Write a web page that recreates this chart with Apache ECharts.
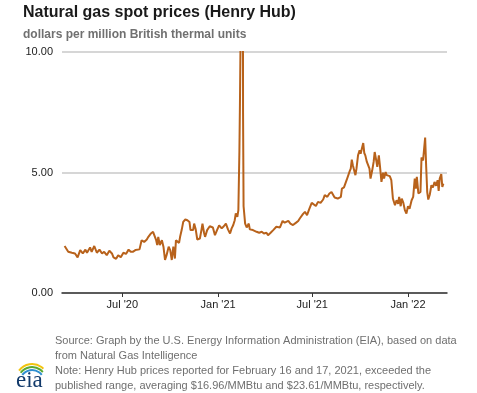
<!DOCTYPE html>
<html>
<head>
<meta charset="utf-8">
<script src="https://cdn.jsdelivr.net/npm/echarts@6/dist/echarts.min.js"></script>
<style>
html,body{margin:0;padding:0;background:#fff;}
#chart{width:477px;height:393px;}
</style>
</head>
<body>
<div id="chart"></div>
<script>
// ---- data ----
const dates = [
'2020-03-12','2020-03-15','2020-03-19','2020-03-26','2020-04-01','2020-04-06','2020-04-11','2020-04-16','2020-04-21','2020-04-24',
'2020-04-30','2020-05-03','2020-05-08','2020-05-13','2020-05-18','2020-05-23','2020-05-27','2020-06-01','2020-06-06','2020-06-11',
'2020-06-14','2020-06-19','2020-06-23','2020-06-28','2020-07-03','2020-07-08','2020-07-13','2020-07-17','2020-07-21','2020-07-26',
'2020-08-03','2020-08-07','2020-08-12','2020-08-17','2020-08-20','2020-08-25','2020-08-29','2020-08-31','2020-09-04','2020-09-06',
'2020-09-08','2020-09-11','2020-09-15','2020-09-18','2020-09-21','2020-09-24','2020-09-28','2020-10-01','2020-10-04','2020-10-07',
'2020-10-10','2020-10-12','2020-10-15','2020-10-18','2020-10-20','2020-10-23','2020-10-26','2020-10-30','2020-11-03','2020-11-07',
'2020-11-09','2020-11-14','2020-11-16','2020-11-19','2020-11-22','2020-11-27','2020-11-30','2020-12-02','2020-12-05','2020-12-07',
'2020-12-11','2020-12-16','2020-12-22','2020-12-26','2020-12-30',
'2021-01-03','2021-01-08','2021-01-12','2021-01-16','2021-01-20','2021-01-24','2021-01-27','2021-01-30','2021-02-02','2021-02-04',
'2021-02-07','2021-02-09','2021-02-10','2021-02-11','2021-02-12','2021-02-16','2021-02-17','2021-02-18','2021-02-19','2021-02-22',
'2021-02-25','2021-03-01','2021-03-03','2021-03-06','2021-03-09','2021-03-12','2021-03-16','2021-03-21','2021-03-26','2021-03-30',
'2021-04-04','2021-04-07','2021-04-12','2021-04-17','2021-04-23','2021-04-30','2021-05-05','2021-05-09','2021-05-16','2021-05-20',
'2021-05-25','2021-05-31','2021-06-04','2021-06-07','2021-06-13','2021-06-17','2021-06-21','2021-06-25','2021-06-30','2021-07-03',
'2021-07-08','2021-07-12','2021-07-17','2021-07-22','2021-07-25','2021-07-30','2021-08-03','2021-08-07','2021-08-13','2021-08-19',
'2021-08-21','2021-08-25','2021-08-27','2021-08-31','2021-09-05','2021-09-11','2021-09-13','2021-09-15','2021-09-17','2021-09-22',
'2021-09-24','2021-09-27','2021-09-30','2021-10-02','2021-10-07','2021-10-09','2021-10-11','2021-10-14','2021-10-19','2021-10-21',
'2021-10-24','2021-10-27','2021-10-29','2021-11-01','2021-11-03','2021-11-06','2021-11-08','2021-11-11','2021-11-14','2021-11-16',
'2021-11-19','2021-11-21','2021-11-27','2021-11-30','2021-12-03','2021-12-07','2021-12-10','2021-12-13','2021-12-15','2021-12-18',
'2021-12-20','2021-12-23','2021-12-26','2021-12-29',
'2022-01-01','2022-01-04','2022-01-08','2022-01-11','2022-01-14','2022-01-16','2022-01-18','2022-01-21','2022-01-25','2022-01-27',
'2022-01-30','2022-02-03','2022-02-05','2022-02-07','2022-02-09','2022-02-12','2022-02-15','2022-02-18','2022-02-21','2022-02-24',
'2022-02-27','2022-03-01','2022-03-03','2022-03-06','2022-03-08','2022-03-10'
];
const prices = [
1.95,1.92,1.71,1.67,1.64,1.48,1.78,1.64,1.80,1.67,
1.89,1.71,1.95,1.67,1.80,1.64,1.71,1.57,1.75,1.64,
1.48,1.42,1.57,1.48,1.67,1.62,1.80,1.71,1.71,1.78,
1.81,2.19,2.12,2.22,2.33,2.47,2.54,2.47,2.19,1.99,
2.33,1.99,2.19,1.92,1.37,1.57,1.92,1.78,1.37,1.92,
1.43,2.19,2.26,2.08,2.33,2.61,2.95,3.05,3.02,2.95,
2.61,2.61,2.88,2.64,2.22,2.26,2.61,2.88,2.50,2.33,
2.61,2.77,2.72,2.40,2.61,
2.81,2.68,2.77,2.88,2.64,2.47,2.68,2.81,3.02,3.30,
3.16,3.44,3.50,5.90,7.80,16.96,23.61,7.50,3.60,2.88,
2.72,2.88,2.64,2.72,2.61,2.68,2.54,2.50,2.54,2.47,
2.50,2.40,2.50,2.61,2.75,2.72,2.99,2.92,2.99,2.88,
2.82,2.92,2.99,3.09,3.27,3.37,3.23,3.47,3.74,3.72,
3.61,3.78,3.74,3.88,4.06,3.99,4.13,4.19,3.96,3.92,
3.85,3.99,4.33,4.38,4.68,5.06,5.16,5.53,5.30,4.89,
5.16,5.71,5.92,5.78,6.22,5.81,5.71,5.44,5.16,4.75,
5.06,5.44,5.85,5.50,5.23,5.71,5.30,4.61,4.99,4.75,
5.02,4.89,4.85,4.68,3.92,3.64,3.85,3.70,3.99,3.60,
3.92,3.75,3.44,3.30,
3.60,3.50,3.85,3.99,4.75,4.33,4.82,4.13,4.19,5.62,
5.50,6.45,5.23,4.19,3.88,4.09,4.47,4.38,4.61,4.45,
4.68,4.24,4.75,4.93,4.40,4.54
];
const tickDates = ['2020-07-01','2021-01-01','2021-07-01','2022-01-01'];
const yTicks = [0, 5, 10];
const monthNames = ['Jan','Feb','Mar','Apr','May','Jun','Jul','Aug','Sep','Oct','Nov','Dec'];

function ts(s){ const p = s.split('-').map(Number); return Date.UTC(p[0], p[1]-1, p[2]); }

const FONT = "'Liberation Sans', Arial, Helvetica, sans-serif";
const chart = echarts.init(document.getElementById('chart'), null, {renderer:'canvas'});
chart.setOption({
  animation: false,
  backgroundColor: '#fff',
  title: [
    {text: 'Natural gas spot prices (Henry Hub)', left: 18, top: 0,
     textStyle: {fontFamily: FONT, fontSize: 16, fontWeight: 'bold', color: '#1a1a1a'}},
    {text: 'dollars per million British thermal units', left: 18, top: 24,
     textStyle: {fontFamily: FONT, fontSize: 12, fontWeight: 'bold', color: '#707070'}}
  ],
  grid: {left: 62, right: 30, top: 52, bottom: 100, containLabel: false},
  xAxis: {
    type: 'value',
    min: ts('2020-03-07'),
    max: ts('2022-03-17'),
    axisLine: {show: true, lineStyle: {color: '#333', width: 1.5}},
    axisTick: {show: true, length: 4, lineStyle: {color: '#333', width: 1}, customValues: tickDates.map(ts)},
    axisLabel: {
      customValues: tickDates.map(ts),
      fontFamily: FONT, fontSize: 11, color: '#222', margin: 6,
      formatter: function(v){ const d = new Date(v); return monthNames[d.getUTCMonth()] + " '" + String(d.getUTCFullYear()).slice(2); }
    },
    splitLine: {show: false}
  },
  yAxis: {
    type: 'value', min: yTicks[0], max: yTicks[yTicks.length-1], interval: 5,
    axisLine: {show: false}, axisTick: {show: false},
    axisLabel: {fontFamily: FONT, fontSize: 11, color: '#222', margin: 9,
      formatter: function(v){ return v.toFixed(2); }},
    splitLine: {show: true, lineStyle: {color: '#c8c8c8', width: 1.5}}
  },
  series: [{
    type: 'line',
    data: dates.map(function(d, i){ return [ts(d), prices[i]]; }),
    showSymbol: false,
    clip: true,
    lineStyle: {color: '#b8621b', width: 2},
    itemStyle: {color: '#b8621b'}
  }],
  graphic: [
    {type: 'text', left: 55, top: 333,
     style: {text: 'Source: Graph by the U.S. Energy Information Administration (EIA), based on data\nfrom Natural Gas Intelligence\nNote: Henry Hub prices reported for February 16 and 17, 2021, exceeded the\npublished range, averaging $16.96/MMBtu and $23.61/MMBtu, respectively.',
       font: "11px " + FONT, fill: '#6f6f6f', lineHeight: 15}},
    {type: 'text', left: 16, top: 369,
     style: {text: 'eia', font: "23px 'Liberation Serif', 'DejaVu Serif', serif", fill: '#123a6b'}},
    {type: 'arc', shape: {cx: 32, cy: 380, r: 16, startAngle: Math.PI*1.2, endAngle: Math.PI*1.75}, style: {stroke: '#f2c40f', lineWidth: 2, fill: null}},
    {type: 'arc', shape: {cx: 32, cy: 381, r: 14, startAngle: Math.PI*1.2, endAngle: Math.PI*1.78}, style: {stroke: '#5aa832', lineWidth: 2, fill: null}},
    {type: 'arc', shape: {cx: 32, cy: 382, r: 12, startAngle: Math.PI*1.2, endAngle: Math.PI*1.8}, style: {stroke: '#2f8fd0', lineWidth: 2, fill: null}}
  ]
});
</script>
</body>
</html>
